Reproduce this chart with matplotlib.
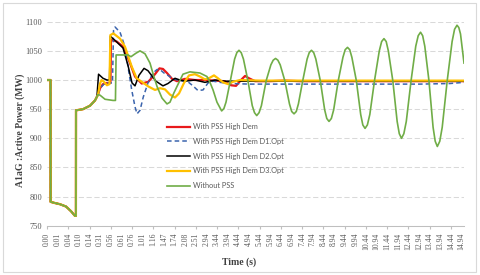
import matplotlib
matplotlib.use("Agg")
import matplotlib.pyplot as plt
from matplotlib.patches import Rectangle

# x positions are along the category axis (one unit = one tick label)
time_labels = ["0.00", "0.01", "0.04", "0.10", "0.14", "0.31", "0.56", "0.61", "0.76", "1.01",
               "1.16", "1.47", "1.74", "2.08", "2.51", "2.94", "3.44", "3.94", "4.44", "4.94",
               "5.44", "5.94", "6.44", "6.94", "7.44", "7.94", "8.44", "8.94", "9.44", "9.94",
               "10.44", "10.94", "11.44", "11.94", "12.44", "12.94", "13.44", "13.94", "14.44", "14.94"]

# common start (fault and recovery) shared by every series
base_x = [0.00, 0.33, 0.34, 0.75, 1.22, 1.79, 2.26, 2.63, 2.72, 2.73, 3.39, 4.05, 4.52]
base_y = [1000, 1000, 791, 789, 787, 783, 775, 767, 767, 948, 950, 956, 965]

red_x = [4.80, 4.99, 5.27, 5.64, 5.97, 6.02, 6.56, 7.18, 7.81, 8.28, 8.91, 9.53, 10.16, 10.58, 10.91,
         11.29, 11.76, 12.23, 12.98, 13.92, 14.86, 15.80, 16.74, 17.31, 17.78, 18.25, 18.63, 19.00,
         19.57, 20.98, 22.39, 23.80, 30.00, 39.23]
red_y = [975, 986, 993, 995, 995, 1069, 1066, 1057, 1029, 1006, 994, 997, 1010, 1020, 1019,
         1012, 1002, 998, 1002, 1000, 1000, 999, 998, 991, 990, 1000, 1007, 1003,
         998, 998, 999, 998, 998, 998]

d1_x = [4.80, 4.99, 5.36, 5.74, 6.16, 6.26, 6.40, 6.87, 7.34, 7.62, 7.97, 8.28, 8.47, 8.75, 9.06,
        9.50, 9.97, 10.35, 10.63, 11.01, 11.38, 11.85, 12.51, 13.26, 13.73, 14.20, 14.68, 15.15,
        15.62, 16.27, 17.21, 19.10, 23.80, 28.50, 35.09, 37.91, 39.23]
d1_y = [975, 986, 993, 995, 995, 1085, 1091, 1082, 1057, 1023, 983, 954, 942, 948, 971,
        995, 1012, 1018, 1018, 1012, 1008, 1002, 999, 997, 990, 982, 983, 995,
        998, 996, 994, 993, 993, 993, 993, 994, 996]

d2_x = [4.70, 4.85, 5.27, 5.64, 5.88, 5.96, 6.40, 7.15, 7.62, 8.00, 8.28, 8.65, 9.13, 9.50, 10.25,
        10.91, 11.38, 12.04, 12.51, 12.98, 13.92, 14.86, 15.80, 16.74, 20.04, 39.23]
d2_y = [972, 1010, 1003, 1000, 1000, 1075, 1068, 1055, 1025, 995, 990, 1008, 1020, 1016, 998,
        990, 994, 1003, 1000, 998, 1000, 996, 1000, 998, 998, 998]

d3_x = [4.80, 4.99, 5.13, 5.36, 5.64, 5.88, 5.96, 6.24, 6.87, 7.34, 7.97, 8.44, 8.91, 9.53, 10.16,
        10.63, 11.10, 11.57, 12.04, 12.42, 12.89, 13.36, 13.92, 14.39, 14.86, 15.33, 15.71, 16.08,
        16.56, 17.03, 17.50, 18.16, 20.04, 39.23]
d3_y = [975, 994, 1000, 997, 991, 993, 1077, 1080, 1071, 1057, 1023, 1003, 997, 989, 983,
        986, 984, 975, 970, 977, 995, 1008, 1010, 1006, 1001, 1004, 1008, 1003,
        996, 993, 997, 1000, 999, 999]

nopss_x = [4.80, 4.99, 5.46, 6.21, 6.44, 6.50, 7.62, 7.90, 8.37, 8.75, 9.22, 9.69, 10.07, 10.35,
           10.82, 11.29, 11.57, 11.94, 12.23, 12.79, 13.45, 14.39, 15.05, 15.33, 15.62, 15.99,
           16.43, 16.64, 16.84, 17.25, 17.65, 17.86, 18.06, 18.27, 18.48, 18.90, 19.31, 19.52,
           19.73, 19.95, 20.17, 20.62, 21.06, 21.28, 21.50, 21.72, 21.94, 22.37, 22.81, 23.02,
           23.24, 23.45, 23.65, 24.06, 24.47, 24.67, 24.88, 25.09, 25.29, 25.71, 26.12, 26.32,
           26.53, 26.75, 26.97, 27.40, 27.84, 28.05, 28.27, 28.48, 28.68, 29.10, 29.51, 29.71,
           29.92, 30.14, 30.37, 30.81, 31.26, 31.48, 31.70, 31.91, 32.11, 32.53, 32.94, 33.14,
           33.35, 33.57, 33.80, 34.25, 34.69, 34.92, 35.14, 35.34, 35.54, 35.93, 36.32, 36.52,
           36.72, 36.95, 37.18, 37.65, 38.11, 38.34, 38.57, 38.74, 38.90, 39.23]
nopss_y = [975, 974, 967, 965, 965, 1043, 1043, 1040, 1046, 1050, 1045, 1029, 1005, 989,
           969, 959, 962, 978, 989, 1010, 1014, 1012, 1006, 996, 983, 962,
           947, 951, 962, 999, 1036, 1047, 1051, 1047, 1036, 999, 956, 944,
           939, 944, 956, 999, 1026, 1034, 1037, 1034, 1026, 999, 959, 946,
           942, 946, 959, 999, 1036, 1047, 1051, 1047, 1036, 999, 949, 934,
           929, 934, 949, 999, 1039, 1052, 1056, 1052, 1039, 999, 941, 923,
           917, 923, 941, 999, 1050, 1066, 1071, 1066, 1050, 999, 929, 908,
           900, 908, 929, 999, 1058, 1076, 1082, 1076, 1058, 999, 919, 895,
           886, 895, 919, 999, 1066, 1087, 1094, 1090, 1079, 1029]

fig = plt.figure(figsize=(4.8, 2.75), dpi=100)
ax = fig.add_axes([0.0979, 0.179, 0.8688, 0.742])

ax.plot(base_x + red_x, base_y + red_y, color="#E8191B", lw=1.6, label="With PSS High Dem")
ax.plot(base_x + d1_x, base_y + d1_y, color="#3B64AD", lw=1.1, ls=(0, (3, 2)),
        label="With PSS High Dem D1.Opt")
ax.plot(base_x + d2_x, base_y + d2_y, color="black", lw=1.1, label="With PSS High Dem D2.Opt")
ax.plot(base_x + d3_x, base_y + d3_y, color="#FFC000", lw=1.6, label="With PSS High Dem D3.Opt")
ax.plot(base_x + nopss_x, base_y + nopss_y, color="#70AD47", lw=1.2, label="Without PSS")

ax.set_xlim(0, 39.23)
ax.set_ylim(750, 1100)
ax.set_yticks(range(750, 1101, 50))
ax.yaxis.grid(True, color="#D9D9D9", lw=0.75, ls=(0, (5, 2.5)))
ax.set_axisbelow(True)

even = list(range(0, 40, 2))
odd = list(range(1, 40, 2))
ax.set_xticks(even, [time_labels[i] for i in even])
ax.set_xticks(odd, [time_labels[i] for i in odd], minor=True)
ax.tick_params(axis="x", which="major", length=2.5, pad=2.5, color="#BFBFBF",
               labelrotation=90, labelsize=5.5, labelcolor="#595959")
ax.tick_params(axis="x", which="minor", length=0, pad=5,
               labelrotation=90, labelsize=5.5, labelcolor="#595959")
ax.tick_params(axis="y", length=0, pad=3.6, labelsize=6, labelcolor="#595959")
for lab in ax.get_xticklabels(which="both") + ax.get_yticklabels():
    lab.set_family("Liberation Serif")

for side in ["top", "right", "left"]:
    ax.spines[side].set_visible(False)
ax.spines["bottom"].set_color("#BFBFBF")
ax.spines["bottom"].set_linewidth(0.75)

fig.text(0.042, 0.527, "A1aG :Active Power (MW)", rotation=90, ha="center", va="center",
         family="Liberation Serif", weight="bold", fontsize=7, color="#404040")
fig.text(0.498, 0.047, "Time (s)", ha="center", va="center",
         family="Liberation Serif", weight="bold", fontsize=7, color="#404040")

ax.legend(loc="upper left", bbox_to_anchor=(0.347, 0.552), bbox_transform=fig.transFigure,
          frameon=False, prop={"family": "Lato", "size": 5.3}, labelcolor="#595959",
          handlelength=3.25, handletextpad=0.3, labelspacing=1.05, borderpad=0, borderaxespad=0)

fig.add_artist(Rectangle((3 / 480, 3 / 275), 473 / 480, 269 / 275, transform=fig.transFigure,
                         fill=False, ec="#D9D9D9", lw=0.8))

fig.savefig("out.png", dpi=100)
